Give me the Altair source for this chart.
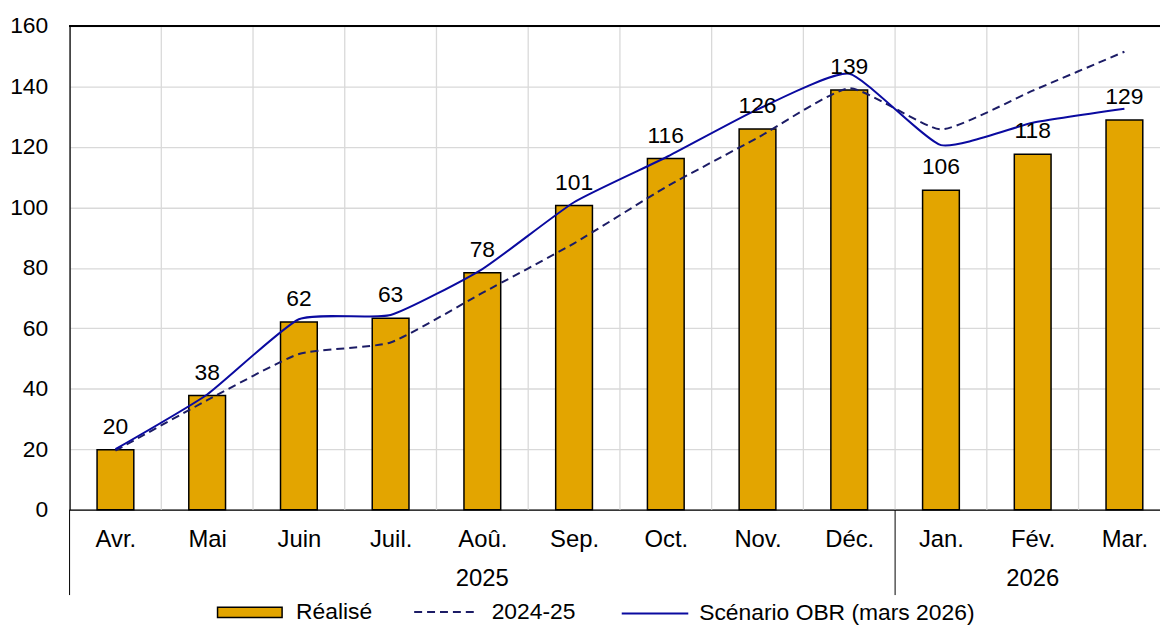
import json
import altair as alt
import pandas as pd

# ---- données ----
mois = ["Avr.", "Mai", "Juin", "Juil.", "Aoû.", "Sep.", "Oct.", "Nov.", "Déc.", "Jan.", "Fév.", "Mar."]
realise = [19.8, 37.8, 62.1, 63.3, 78.4, 100.6, 116.2, 125.9, 138.8, 105.7, 117.6, 128.9]
s2425 = [19.5, 36.2, 51.5, 55.3, 71.7, 88.1, 106.7, 123.0, 139.4, 125.8, 138.6, 151.5]
obr = [20.0, 38.1, 63.0, 64.4, 79.6, 101.7, 116.5, 132.4, 144.2, 120.6, 128.0, 132.6]
annees = ["2025", "2026"]
annees_mois_centre = ["Aoû.", "Fév."]
separateurs = ["Avr.", "Jan."]
y_ticks = [0, 20, 40, 60, 80, 100, 120, 140, 160]

df = pd.DataFrame({"mois": mois, "realise": realise, "s2425": s2425, "obr": obr})
df_years = pd.DataFrame({"mois": annees_mois_centre, "annee": annees})
df_sep = pd.DataFrame({"mois": separateurs})

W, H = 1098, 487
FONT = "Liberation Sans"
FS = 23
FSX = 24
GOLD = "#E3A500"
NAVY = "#0A0AA0"
DNAVY = "#1C1C66"
GRID = "#D9D9D9"

MOIS_JS = json.dumps(mois, ensure_ascii=False)
IDX = f"indexof({MOIS_JS}, datum.mois)"

# month slots; the last slot runs past the right edge of the picture, as in the reference
x_scale = alt.Scale(domain=[-0.5, 11.388], nice=False, zero=False, padding=0)
x_axis = alt.Axis(values=list(range(len(mois))), labelExpr=f"{MOIS_JS}[datum.value]",
                  ticks=False, grid=False, domainColor="black", domainWidth=1.3,
                  labelFont=FONT, labelFontSize=FSX, labelColor="black", labelPadding=18,
                  labelAngle=0, labelFlush=False, labelOverlap=False, title=None)


def xenc(field="i"):
    return alt.X(f"{field}:Q", scale=x_scale, axis=x_axis, title=None)


y_scale = alt.Scale(domain=[0, 160], nice=False)
y_axis = alt.Axis(values=y_ticks, ticks=False, grid=True, gridColor=GRID, gridWidth=1.3,
                  domainColor="black", domainWidth=1.3, labelFont=FONT, labelFontSize=FS,
                  labelColor="black", labelPadding=22, title=None)

LEG_Y = 557
LINE_SYM = "M-1,0H1"


def legend(x, **kw):
    return alt.Legend(title=None, orient="none", legendX=x, legendY=LEG_Y, labelLimit=500,
                      labelFont=FONT, labelFontSize=FS, labelColor="black", padding=0, **kw)


base = alt.Chart(df).transform_calculate(i=IDX)

# vertical grid lines between months (the one past the last month would lie outside the picture)
vgrid = base.transform_filter(f"datum.i < {len(mois) - 1}").transform_calculate(
    g="datum.i + 0.5"
).mark_rule(color=GRID, strokeWidth=1.3).encode(
    x=xenc("g"),
)

bars = base.mark_bar(orient="vertical", width=37, stroke="black", strokeWidth=1.5).transform_calculate(
    serie="'Réalisé'"
).encode(
    x=xenc(),
    y=alt.Y("realise:Q", scale=y_scale, axis=y_axis),
    color=alt.Color("serie:N", scale=alt.Scale(domain=["Réalisé"], range=[GOLD]),
                    legend=legend(148, symbolType="M-1,-0.16H1V0.16H-1Z", symbolSize=4225,
                                  symbolStrokeColor="black", symbolStrokeWidth=1.5,
                                  symbolFillColor=GOLD, symbolOpacity=1, labelOffset=13)),
)

line_2425 = base.mark_line(strokeDash=[8, 5], strokeWidth=2, interpolate="cardinal", tension=0.5).transform_calculate(
    serie2="'2024-25'"
).encode(
    x=xenc(),
    y=alt.Y("s2425:Q", scale=y_scale, axis=y_axis),
    color=alt.Color("serie2:N", scale=alt.Scale(domain=["2024-25"], range=[DNAVY]),
                    legend=legend(346, symbolType=LINE_SYM, symbolSize=4096, symbolStrokeWidth=2,
                                  symbolFillColor="transparent", symbolDash=[8, 5], labelOffset=13)),
)

line_obr = base.mark_line(strokeWidth=2, interpolate="cardinal", tension=0.5).transform_calculate(
    serie3="'Scénario OBR (mars 2026)'"
).encode(
    x=xenc(),
    y=alt.Y("obr:Q", scale=y_scale, axis=y_axis),
    color=alt.Color("serie3:N", scale=alt.Scale(domain=["Scénario OBR (mars 2026)"], range=[NAVY]),
                    legend=legend(555, symbolType=LINE_SYM, symbolSize=4489, symbolStrokeWidth=2,
                                  symbolFillColor="transparent", labelOffset=10)),
)

labels = base.mark_text(baseline="alphabetic", dy=-16, font=FONT, fontSize=FS, color="black").encode(
    x=xenc(),
    y=alt.Y("realise:Q", scale=y_scale, axis=y_axis),
    text=alt.Text("realise:Q", format=".0f"),
)

top_rule = alt.Chart(df).mark_rule(color="black", strokeWidth=1.3).encode(
    y=alt.datum(160, type="quantitative", scale=y_scale, axis=y_axis),
)

sep_rules = alt.Chart(df_sep).transform_calculate(g=f"{IDX} - 0.5").mark_rule(color="black", strokeWidth=1).encode(
    x=xenc("g"),
    y=alt.value(H),
    y2=alt.value(H + 86),
)

year_labels = alt.Chart(df_years).transform_calculate(i=IDX).mark_text(
    baseline="middle", font=FONT, fontSize=FSX, color="black"
).encode(
    x=xenc(),
    y=alt.value(H + 70),
    text="annee:N",
)

chart = alt.layer(
    vgrid, bars, line_2425, line_obr, labels, top_rule, sep_rules, year_labels
).resolve_scale(color="independent").properties(
    width=W, height=H,
    autosize=alt.AutoSizeParams(type="none"),
    padding={"left": 62, "top": 16, "right": 0, "bottom": 115},
).configure_view(stroke=None).configure(background="white")

chart.save("out.html", embed_options={"renderer": "svg", "actions": False})
